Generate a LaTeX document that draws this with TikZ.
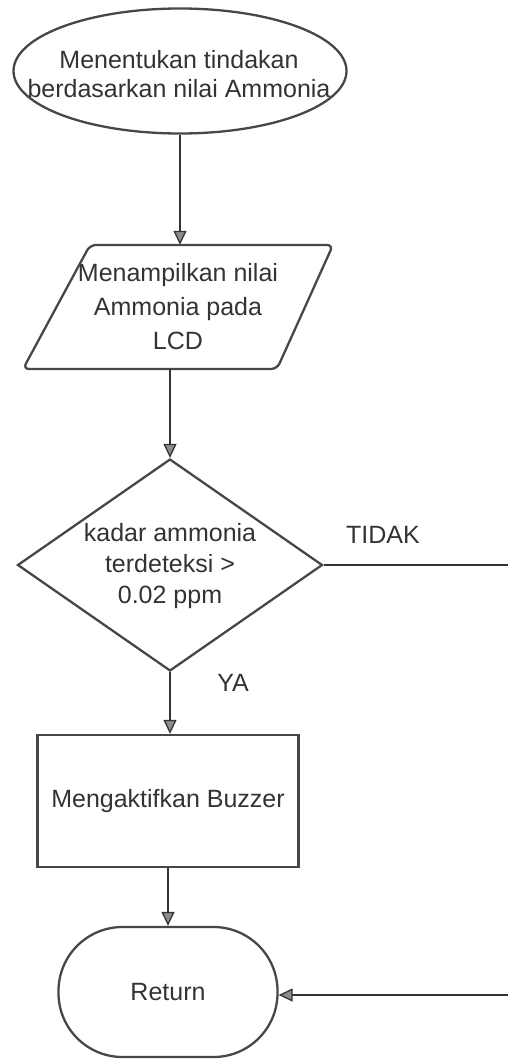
\documentclass[tikz,border=0pt]{standalone}
\usepackage{fontspec}
\setmainfont{Liberation Sans}
\usetikzlibrary{shapes.geometric,arrows.meta}
\begin{document}
\begin{tikzpicture}[x=1pt,y=-1pt,
  outline/.style={draw=black!72,line width=2.3pt},
  txt/.style={font=\fontsize{25}{30}\selectfont,text=black!80,align=center,inner sep=0pt},
  conn/.style={draw=black!80,line width=1.3pt},
  arr/.style={conn,-{Triangle[length=14pt,width=13pt,fill=black!45]}}]
\useasboundingbox (0,0) rectangle (508,1059);
% start ellipse
\node[ellipse,outline,minimum width=333pt,minimum height=125pt,inner sep=0pt] (ell) at (180,71) {};
\node[txt,font=\fontsize{25}{29}\selectfont] (elltext) at (179,74) {Menentukan tindakan\\berdasarkan nilai Ammonia};
% display parallelogram
\node[txt,minimum width=200pt,minimum height=124pt,font=\fontsize{25}{34}\selectfont] (disp) at (178,307) {Menampilkan nilai\\Ammonia pada\\LCD};
\draw[outline,rounded corners=6pt] (23,369) -- (277,369) -- (333,245) -- (90,245) -- cycle;
% decision diamond
\node[diamond,outline,minimum width=305pt,minimum height=212pt,inner sep=0pt] (dec) at (170,565) {};
\node[txt,font=\fontsize{25}{31}\selectfont] (dectext) at (170,566) {kadar ammonia\\terdeteksi >\\0.02 ppm};
% buzzer process
\node[rectangle,outline,minimum width=261pt,minimum height=132pt,txt] (buz) at (168,801) {Mengaktifkan Buzzer};
% return terminator
\node[rectangle,outline,rounded corners=64pt,minimum width=219pt,minimum height=130pt,txt] (ret) at (168,992) {Return};
% labels
\node[txt] (tidak) at (383,535) {TIDAK};
\node[txt] (ya) at (233,683) {YA};
% connectors
\draw[arr] (ell.south) -- (ell.south |- disp.north);
\draw[arr] (dec.north |- disp.south) -- (dec.north);
\draw[arr] (dec.south) -- (dec.south |- buz.north);
\draw[arr] (buz.south) -- (buz.south |- ret.north);
\coordinate (edgeA) at (508,565);
\coordinate (edgeB) at (508,995);
\draw[conn] (dec.east) -- (edgeA);
\draw[arr] (edgeB) -- (ret.east |- edgeB);
\end{tikzpicture}
\end{document}
